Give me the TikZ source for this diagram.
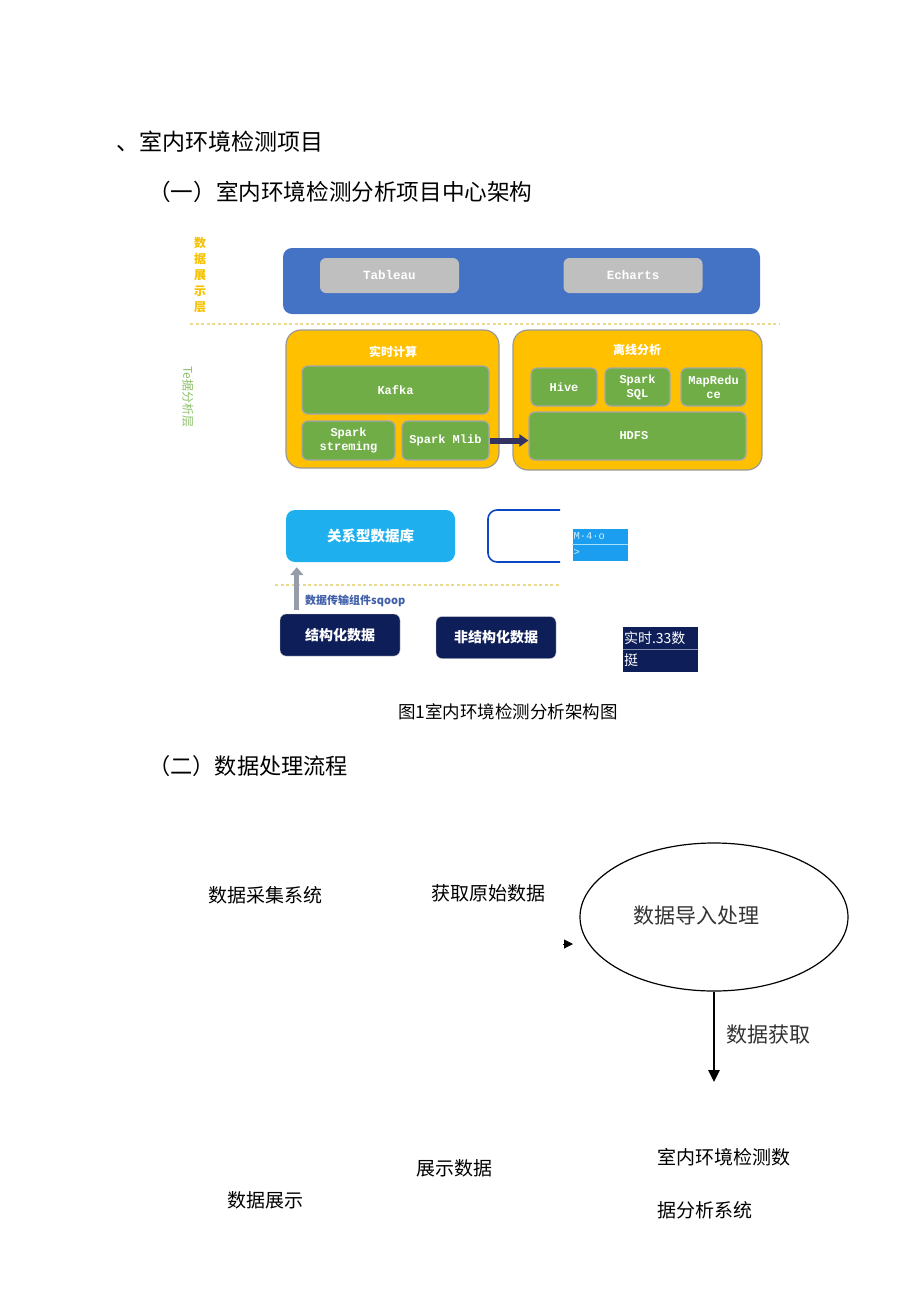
\documentclass[tikz,border=0pt]{standalone}
\usepackage{fontspec}
\setmainfont{Noto Sans CJK SC}
\setmonofont{Liberation Mono}
\usepackage{tikz}
\usepackage{xcolor}
\definecolor{dispblue}{RGB}{68, 114, 196}
\definecolor{tabgray}{RGB}{191, 191, 191}
\definecolor{calcorange}{RGB}{255, 192, 0}
\definecolor{sparkgreen}{RGB}{112, 173, 71}
\definecolor{rdbcyan}{RGB}{30, 176, 238}
\definecolor{srcnavy}{RGB}{14, 30, 88}
\definecolor{arrowgray}{RGB}{150, 156, 168}
\definecolor{sqoopblue}{RGB}{63, 95, 168}
\definecolor{layergold}{RGB}{245, 193, 0}
\definecolor{layergreen}{RGB}{140, 192, 106}
\definecolor{dashyellow}{RGB}{236, 218, 140}
\usetikzlibrary{shapes.geometric, arrows.meta, positioning, calc}

\begin{document}
\begin{tikzpicture}[x=1pt, y=-1pt,
    box/.style={rounded corners=6pt, inner sep=0pt, align=center},
    greenbox/.style={box, draw=gray!70, fill=sparkgreen, line width=1.2pt,
        text=white, font=\ttfamily\bfseries\fontsize{12}{14}\selectfont},
    layerdash/.style={dashyellow, line width=1.6pt, dash pattern=on 3pt off 2.5pt},
    plaintext/.style={inner sep=0pt, font=\fontsize{19}{23}\selectfont}]
\useasboundingbox (0,0) rectangle (920,1301);

% headings
\node[anchor=west, inner sep=0pt, font=\fontsize{23}{28}\selectfont] (head1) at (116,142) {、室内环境检测项目};
\node[anchor=west, inner sep=0pt, font=\fontsize{22.6}{28}\selectfont] (head2) at (148,192) {（一）室内环境检测分析项目中心架构};

% display layer
\node[align=center, inner sep=0pt, text=layergold, font=\bfseries\fontsize{12}{16}\selectfont] (displabel) at (200,275) {数\\据\\展\\示\\层};
\node[box, fill=dispblue, minimum width=477, minimum height=66, rounded corners=9pt] (disp) at (521.5,281) {};
\foreach \nm/\cx/\txt in {tableau/389.5/Tableau, echarts/633/Echarts} {
    \node[box, fill=tabgray, minimum width=139, minimum height=35, text=white,
          font=\ttfamily\bfseries\fontsize{12.5}{14}\selectfont] (\nm) at (\cx,275.5) {\txt};
}
\draw[layerdash] (190,324) -- (780,324);

% analysis layer
\node[rotate=-90, inner sep=0pt, text=layergreen, font=\fontsize{12}{14}\selectfont] (analabel) at (188,397) {Te据分析层};
\node[box, draw=gray!80, fill=calcorange, line width=1.2pt, rounded corners=15pt,
      minimum width=213, minimum height=138] (realtime) at (392.5,399) {};
\node[box, draw=gray!80, fill=calcorange, line width=1.2pt, rounded corners=15pt,
      minimum width=249, minimum height=140] (offline) at (637.5,400) {};
\node[text=white, font=\bfseries\fontsize{12}{14}\selectfont] (rttitle) at (393,352) {实时计算};
\node[text=white, font=\bfseries\fontsize{12}{14}\selectfont] (offtitle) at (637,350) {离线分析};
\foreach \nm/\cx/\cy/\w/\h/\txt in {
    kafka/395.5/390/187/48/Kafka,
    streaming/348.5/440.5/93/39/{Spark\\streming},
    mlib/445.5/440.5/87/39/{Spark Mlib},
    hive/564/387/66/38/Hive,
    sparksql/637.5/387/65/38/{Spark\\SQL},
    mapreduce/713.5/387/65/38/{MapRedu\\ce},
    hdfs/637.5/436/217/48/HDFS
} {
    \node[greenbox, minimum width=\w, minimum height=\h] (\nm) at (\cx,\cy) {\txt};
}
\draw[-{Triangle[length=9pt, width=12pt]}, line width=6pt, black!70!blue!60!gray] (mlib.east) -- (hdfs.west |- mlib.east);

% storage layer
\node[box, fill=rdbcyan, minimum width=169, minimum height=52, rounded corners=9pt,
      text=white, font=\bfseries\fontsize{14.5}{17}\selectfont] (rdb) at (370.5,536) {关系型数据库};
\begin{scope}
    \clip (484,504) rectangle (560,568);
    \node[box, draw=blue!50!rdbcyan!80!black, line width=1.6pt, fill=white, rounded corners=9pt,
          minimum width=104, minimum height=52] (nosql) at (540,536) {};
\end{scope}
\node[fill=rdbcyan!90!blue, minimum width=55, minimum height=32, inner sep=0pt] (mbox) at (600,544.5) {};
\draw[white!60!rdbcyan, line width=0.6pt] (mbox.west) -- (mbox.east);
\node[anchor=west, inner sep=1pt, text=white!80!rdbcyan, font=\ttfamily\fontsize{10.5}{12}\selectfont] (mtop) at ($(mbox.west)+(0,-8)$) {M·4·o};
\node[anchor=west, inner sep=1pt, text=white!80!rdbcyan, font=\ttfamily\fontsize{10.5}{12}\selectfont] (mbot) at ($(mbox.west)+(0,8)$) {>};
\draw[layerdash] (275,585) -- (560,585);

% data sources
\node[box, fill=srcnavy, draw=gray!40, minimum width=120, minimum height=42, text=white,
      font=\bfseries\fontsize{14}{16}\selectfont] (struct) at (340,635) {结构化数据};
\node[box, fill=srcnavy, draw=gray!40, minimum width=120, minimum height=42, text=white,
      font=\bfseries\fontsize{14}{16}\selectfont] (unstruct) at (496,637.5) {非结构化数据};
\draw[-{Triangle[length=8pt, width=13pt]}, line width=5pt, arrowgray]
    ($(struct.north west)+(17,-4)$) -- ($(rdb.south west)+(11,5)$);
\node[anchor=west, inner sep=0pt, text=sqoopblue, font=\bfseries\fontsize{11}{13}\selectfont] (sqoop) at (305,601) {数据传输组件sqoop};
\node[fill=srcnavy, minimum width=75, minimum height=45, inner sep=0pt] (rtbox) at (660.5,649.5) {};
\draw[white!50!srcnavy, line width=0.6pt] (rtbox.west) -- (rtbox.east);
\node[anchor=west, inner sep=1pt, text=white, font=\fontsize{14}{16}\selectfont] (rttop) at ($(rtbox.west)+(0,-11)$) {实时.33数};
\node[anchor=west, inner sep=1pt, text=white, font=\fontsize{14}{16}\selectfont] (rtbot) at ($(rtbox.west)+(0,11)$) {挺};

% caption
\node[inner sep=0pt, font=\fontsize{17.5}{20}\selectfont] (caption) at (508,712) {图1室内环境检测分析架构图};

% processing flow
\node[anchor=west, inner sep=0pt, font=\fontsize{22.2}{28}\selectfont] (head3) at (148,766) {（二）数据处理流程};
\node[plaintext] (collect) at (265,895) {数据采集系统};
\node[plaintext] (raw) at (488,893) {获取原始数据};
\node[ellipse, draw, line width=1.2pt, minimum width=268, minimum height=148, inner sep=0pt] (import) at (714,917) {};
\node[inner sep=0pt, font=\fontsize{21}{25}\selectfont, text=black!80] (importtxt) at (696,916) {数据导入处理};
\coordinate (feedtip) at (573,944);
\draw[-{Triangle[length=9pt, width=9pt]}, line width=1pt] ($(feedtip)+(-10,0)$) -- (feedtip);
\coordinate (getend) at (714,1082);
\draw[-{Triangle[length=12pt, width=11pt]}, line width=2.6pt] (import.south) -- (getend);
\node[inner sep=0pt, font=\fontsize{21}{25}\selectfont, text=black!80] (gettxt) at (768,1035) {数据获取};
\node[plaintext] (showdata) at (454,1168) {展示数据};
\node[plaintext] (display) at (265,1200) {数据展示};
\node[plaintext, anchor=west] (sys1) at (657,1157) {室内环境检测数};
\node[plaintext, anchor=west] (sys2) at (657,1210) {据分析系统};
\end{tikzpicture}
\end{document}
